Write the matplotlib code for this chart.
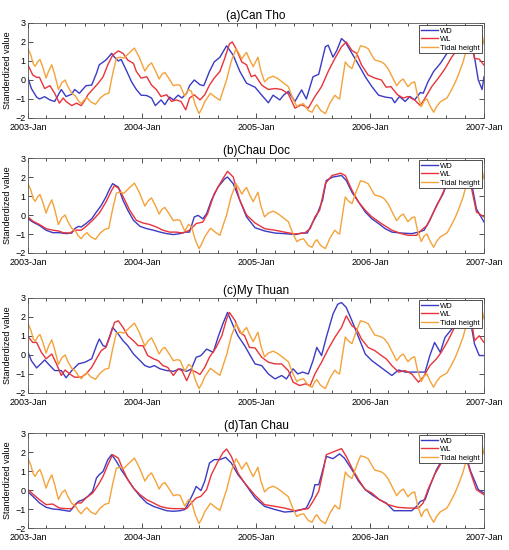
import numpy as np
import pandas as pd
import matplotlib
matplotlib.use('AGG')
import matplotlib.pyplot as plt
import matplotlib.dates as mdates

# (months after 2003-Jan, standardized value)
tidal = [(0, 1.65), (0.3, 1.3), (0.55, 0.85), (0.75, 0.72), (1.0, 0.95), (1.25, 1.08), (1.5, 0.75),
         (1.9, 0.1), (2.15, 0.45), (2.5, 0.8), (2.8, 0.3), (3.2, -0.5), (3.55, -0.15), (3.9, 0.0),
         (4.2, -0.35), (4.6, -0.7), (5.0, -0.85), (5.3, -1.1), (5.6, -1.25), (5.9, -1.05),
         (6.2, -0.93), (6.6, -1.15), (7.1, -1.28), (7.6, -0.95), (8.1, -0.75), (8.5, -0.7),
         (8.9, 0.3), (9.3, 1.15), (9.7, 1.2), (10.1, 1.15), (10.6, 1.4), (11.2, 1.68),
         (11.7, 1.2), (12.3, 0.47), (12.65, 0.75), (13.0, 0.9), (13.4, 0.5), (13.8, 0.05),
         (14.1, 0.3), (14.4, 0.4), (14.8, 0.1), (15.3, -0.3), (15.7, -0.25), (16.0, -0.28),
         (16.5, -0.85), (16.9, -0.5), (17.2, -0.6), (17.6, -1.3), (18.0, -1.77), (18.3, -1.5),
         (18.6, -1.15), (19.2, -0.7), (19.7, -0.9), (20.2, -1.07), (20.5, -0.6), (20.9, 0.0),
         (21.4, 1.0), (21.9, 1.65), (22.2, 1.4), (22.5, 1.1), (22.75, 1.3), (23.0, 1.45),
         (23.3, 1.1), (23.7, 0.7), (24.0, 1.0), (24.2, 1.2), (24.5, 0.5), (24.9, -0.1),
         (25.3, 0.1), (25.8, 0.2), (26.2, 0.1), (26.5, 0.0), (27.0, -0.2), (27.4, -0.35),
         (27.9, -1.0), (28.3, -1.4), (28.6, -1.3), (29.0, -1.25), (29.5, -1.6), (29.9, -1.7),
         (30.2, -1.4), (30.4, -1.3), (30.8, -1.6), (31.3, -1.77), (31.8, -1.2), (32.3, -0.8),
         (32.6, -0.95), (32.8, -1.0), (33.1, 0.0), (33.4, 0.95), (33.7, 0.75), (34.1, 0.6),
         (34.6, 1.3), (35.0, 1.8), (35.4, 1.75), (35.8, 1.65), (36.2, 1.3), (36.5, 1.05),
         (36.9, 1.0), (37.2, 0.95), (37.5, 0.85), (37.9, 0.6), (38.4, 0.1), (38.8, -0.3),
         (39.2, -0.05), (39.5, 0.05), (39.8, -0.2), (40.0, -0.35), (40.4, -0.15), (40.7, -0.1),
         (41.0, -0.8), (41.4, -1.4), (41.7, -1.1), (42.0, -1.0), (42.3, -1.35), (42.7, -1.7),
         (43.0, -1.4), (43.4, -1.15), (44.1, -0.95), (44.6, -0.5), (45.0, -0.1), (45.4, 0.4),
         (45.8, 0.95), (46.1, 1.5), (46.4, 2.0), (46.8, 1.8), (47.1, 1.5), (47.5, 2.1),
         (47.8, 2.35), (48.0, 1.9)]

wd_cantho = [(0, 0.1), (0.35, -0.45), (0.9, -0.9), (1.2, -1.0), (1.75, -0.88), (2.3, -1.05),
             (2.8, -1.13), (3.5, -0.5), (4.0, -0.87), (4.6, -0.75), (4.9, -0.5), (5.4, -0.7),
             (6.1, -0.3), (6.7, -0.27), (7.2, 0.35), (7.5, 0.8), (8.2, 1.05), (8.8, 1.4),
             (9.1, 1.2), (9.5, 1.0), (9.8, 1.08), (10.4, 0.45), (10.9, -0.1), (11.4, -0.5),
             (11.9, -0.8), (12.5, -0.82), (13.0, -0.95), (13.4, -1.35), (14.0, -1.05),
             (14.4, -1.3), (14.9, -0.9), (15.3, -1.05), (15.8, -0.8), (16.2, -0.95),
             (16.7, -0.7), (17.0, -0.3), (17.5, 0.0), (18.1, -0.25), (18.5, -0.3), (19.1, 0.45),
             (19.6, 0.95), (20.2, 1.2), (20.9, 1.8), (21.6, 1.3), (22.3, 0.45), (23.0, -0.17),
             (23.9, -0.38), (24.6, -0.8), (25.3, -1.2), (25.8, -0.8), (26.5, -1.05),
             (26.9, -0.8), (27.4, -0.6), (28.1, -1.13), (28.8, -0.52), (29.3, -1.0),
             (30.0, 0.17), (30.6, 0.3), (31.3, 1.75), (31.6, 1.83), (32.1, 1.2), (32.5, 1.55),
             (33.0, 2.18), (33.4, 2.0), (34.1, 1.4), (34.8, 0.8), (35.5, 0.17), (36.2, -0.35),
             (36.9, -0.8), (37.6, -0.9), (38.3, -0.95), (38.6, -1.2), (39.1, -0.87),
             (39.7, -1.13), (40.2, -0.87), (40.7, -1.05), (41.3, -0.66), (41.6, -0.7),
             (42.1, -0.1), (42.7, 0.45), (43.4, 0.87), (44.1, 1.4), (45.5, 2.0), (46.5, 2.2),
             (47.0, 1.2), (47.4, 0.0), (47.8, -0.5), (48.0, 0.17)]

wl_cantho = [(0, 0.78), (0.5, 0.26), (0.9, 0.14), (1.2, 0.14), (1.75, -0.45), (2.3, -0.3),
             (2.8, -0.7), (3.3, -1.22), (3.7, -0.95), (4.0, -1.13), (4.6, -1.35), (5.1, -1.22),
             (5.6, -1.35), (6.0, -1.05), (6.3, -0.78), (6.8, -0.5), (7.4, -0.17), (7.9, 0.17),
             (8.4, 0.8), (8.9, 1.3), (9.5, 1.53), (10.0, 1.4), (10.5, 1.05), (11.1, 0.87),
             (11.4, 0.45), (11.9, 0.1), (12.5, 0.17), (13.0, -0.27), (13.5, -0.5),
             (14.0, -0.87), (14.6, -0.78), (15.1, -1.13), (15.6, -1.05), (16.1, -1.13),
             (16.6, -1.57), (17.0, -0.95), (17.5, -0.78), (18.1, -1.05), (18.6, -0.78),
             (19.1, -0.27), (19.6, 0.1), (20.2, 0.45), (20.7, 1.13), (21.2, 1.9), (21.5, 2.0),
             (21.9, 1.65), (22.5, 0.95), (23.0, 0.8), (23.5, 0.17), (23.9, 0.26),
             (24.6, -0.27), (25.3, -0.5), (26.0, -0.45), (26.7, -0.5), (27.4, -0.73),
             (28.1, -1.48), (28.8, -1.3), (29.5, -1.48), (30.2, -0.87), (30.9, -0.35),
             (31.6, 0.45), (32.3, 1.13), (33.0, 1.75), (33.5, 2.0), (34.1, 1.55), (34.6, 1.4),
             (35.1, 0.8), (35.8, 0.26), (36.5, 0.1), (37.2, 0.0), (37.7, -0.38), (38.2, -0.35),
             (38.9, -0.78), (39.5, -0.95), (40.0, -0.87), (40.7, -1.05), (41.3, -1.35),
             (41.8, -0.95), (42.5, -0.35), (43.2, 0.1), (43.9, 0.6), (44.6, 1.2), (45.1, 1.55),
             (46.0, 1.8), (46.6, 2.0), (47.0, 1.13), (47.5, 1.1), (48.0, 0.78)]

wd_chaudoc = [(0, -0.2), (0.5, -0.37), (1.2, -0.55), (1.9, -0.8), (2.6, -0.93), (3.3, -0.93),
              (4.0, -0.98), (4.6, -0.95), (4.9, -0.72), (5.3, -0.6), (5.6, -0.63), (6.1, -0.45),
              (6.7, -0.2), (7.2, 0.16), (7.7, 0.5), (8.2, 0.95), (8.6, 1.38), (8.9, 1.65),
              (9.5, 1.47), (10.0, 0.77), (10.5, 0.25), (11.1, -0.28), (11.8, -0.6),
              (12.5, -0.72), (13.2, -0.8), (13.9, -0.9), (14.6, -0.98), (15.3, -1.03),
              (16.0, -0.98), (16.5, -0.9), (17.0, -0.9), (17.5, -0.1), (17.9, -0.02),
              (18.4, -0.2), (18.8, 0.07), (19.3, 0.77), (20.0, 1.47), (20.7, 1.9), (21.0, 2.0),
              (21.6, 1.65), (22.3, 0.77), (23.0, -0.1), (23.9, -0.67), (24.9, -0.84),
              (26.0, -0.95), (27.0, -0.98), (28.1, -1.03), (28.8, -0.95), (29.4, -0.95),
              (29.9, -0.45), (30.4, 0.0), (31.0, 0.77), (31.4, 1.82), (32.1, 2.0), (33.0, 2.08),
              (33.5, 1.82), (34.1, 1.2), (34.8, 0.68), (35.5, 0.16), (36.2, -0.2),
              (36.9, -0.45), (37.6, -0.72), (38.3, -0.9), (39.3, -0.95), (40.4, -0.98),
              (41.1, -0.9), (41.7, -0.8), (42.3, -0.28), (43.0, 0.5), (43.7, 1.12),
              (44.2, 1.82), (45.0, 2.1), (46.0, 2.3), (46.7, 1.65), (47.2, 0.33), (48.0, -0.37)]

wl_chaudoc = [(0, -0.1), (0.5, -0.32), (1.2, -0.5), (1.9, -0.72), (2.6, -0.8), (3.2, -0.84),
              (3.7, -0.93), (4.4, -0.95), (4.9, -0.8), (5.6, -0.8), (6.1, -0.6), (6.8, -0.28),
              (7.5, 0.1), (8.2, 0.68), (8.8, 1.3), (9.1, 1.55), (9.6, 1.38), (10.2, 0.77),
              (10.7, 0.25), (11.4, -0.28), (12.1, -0.42), (12.8, -0.5), (13.5, -0.63),
              (14.2, -0.8), (14.9, -0.9), (15.6, -0.9), (16.3, -0.95), (17.0, -0.8),
              (17.7, -0.45), (18.4, -0.37), (18.9, 0.07), (19.6, 1.12), (20.4, 1.82),
              (21.0, 2.3), (21.6, 2.0), (22.3, 0.77), (23.0, 0.0), (23.9, -0.42),
              (24.9, -0.72), (26.0, -0.8), (27.0, -0.9), (28.1, -1.0), (29.1, -0.95),
              (29.7, -0.72), (30.2, -0.1), (30.7, 0.25), (31.3, 1.65), (32.0, 2.08),
              (32.9, 2.2), (33.4, 2.08), (34.1, 1.3), (34.8, 0.68), (35.5, 0.25), (36.2, -0.1),
              (37.2, -0.45), (38.3, -0.8), (39.3, -0.98), (40.0, -1.07), (40.9, -1.07),
              (41.4, -0.8), (42.0, -0.55), (42.7, 0.16), (43.4, 0.86), (44.1, 1.65),
              (45.0, 2.1), (46.0, 2.2), (46.7, 1.38), (47.2, 0.16), (48.0, -0.1)]

wd_mythuan = [(0, 0.14), (0.35, -0.3), (0.9, -0.68), (1.4, -0.44), (1.75, -0.26), (2.3, -0.56),
              (2.8, -0.82), (3.5, -0.82), (4.0, -1.2), (4.6, -0.82), (5.3, -0.47), (6.0, -0.38),
              (6.7, -0.2), (7.2, 0.49), (7.5, 0.84), (7.9, 0.49), (8.2, 0.44), (8.6, 1.0),
              (8.9, 1.45), (9.5, 1.1), (10.0, 0.75), (10.5, 0.49), (11.1, 0.05), (11.8, -0.3),
              (12.3, -0.56), (12.8, -0.65), (13.3, -0.56), (13.9, -0.73), (14.6, -0.82),
              (15.3, -0.86), (16.0, -0.73), (16.7, -0.86), (17.2, -0.73), (17.7, -0.12),
              (18.2, -0.03), (18.8, 0.31), (19.5, 0.14), (20.0, 0.93), (20.5, 1.63),
              (21.0, 2.24), (21.6, 1.54), (22.1, 1.01), (22.8, 0.49), (23.9, -0.47),
              (24.6, -0.56), (25.3, -1.0), (26.0, -1.26), (26.7, -1.08), (27.2, -1.26),
              (27.9, -0.73), (28.4, -1.0), (28.9, -0.9), (29.5, -1.0), (30.0, -0.3),
              (30.4, 0.4), (30.9, -0.03), (31.4, 0.93), (32.1, 2.15), (32.6, 2.67),
              (33.0, 2.76), (33.5, 2.5), (34.1, 1.8), (34.8, 0.93), (35.5, 0.05), (36.2, -0.3),
              (36.9, -0.56), (37.6, -0.82), (38.3, -1.08), (39.0, -0.79), (39.7, -0.9),
              (40.4, -0.9), (41.1, -0.9), (41.8, -0.9), (42.3, -0.03), (42.8, 0.66),
              (43.4, 0.14), (43.9, 0.93), (44.6, 1.36), (45.5, 1.8), (46.5, 2.0), (47.0, 0.58),
              (47.5, -0.03), (48.0, -0.03)]

wl_mythuan = [(0, 0.96), (0.5, 0.66), (0.9, 0.66), (1.4, 0.14), (1.9, -0.2), (2.5, 0.05),
              (3.0, -0.47), (3.5, -1.08), (3.9, -0.79), (4.4, -1.0), (4.9, -1.17), (5.6, -1.17),
              (6.1, -1.0), (6.7, -0.65), (7.2, -0.2), (7.7, 0.23), (8.2, 0.4), (8.6, 0.93),
              (9.1, 1.71), (9.5, 1.8), (10.0, 1.45), (10.5, 1.01), (11.1, 0.75), (11.6, 0.49),
              (12.1, 0.49), (12.6, -0.03), (13.2, -0.2), (13.7, -0.3), (14.2, -0.56),
              (14.7, -0.65), (15.3, -1.08), (15.8, -0.73), (16.2, -0.82), (16.7, -1.35),
              (17.2, -0.79), (17.7, -0.9), (18.1, -1.03), (18.6, -0.65), (19.1, -0.12),
              (19.8, 0.4), (20.4, 1.01), (20.9, 1.89), (21.2, 2.24), (21.8, 1.8), (22.3, 1.19),
              (22.8, 1.01), (23.3, 0.4), (23.9, 0.37), (24.6, -0.12), (25.3, -0.38),
              (26.0, -0.47), (26.7, -0.47), (27.4, -0.82), (27.9, -1.43), (28.6, -1.61),
              (29.2, -1.52), (29.7, -1.61), (30.2, -1.0), (30.9, -0.38), (31.6, 0.31),
              (32.3, 0.93), (33.0, 1.45), (33.5, 2.06), (34.1, 1.54), (34.6, 1.36),
              (35.1, 0.84), (35.8, 0.4), (36.5, 0.23), (37.2, -0.03), (37.7, -0.2),
              (38.3, -0.56), (39.0, -0.9), (39.7, -0.82), (40.4, -1.0), (41.1, -1.43),
              (41.6, -1.17), (42.3, -0.56), (43.0, -0.2), (43.5, 0.14), (44.2, 0.75),
              (44.9, 1.45), (46.0, 1.9), (46.6, 2.1), (47.0, 0.75), (47.5, 1.01), (48.0, 0.66)]

wd_tanchau = [(0, -0.1), (0.5, -0.33), (1.2, -0.68), (1.9, -0.91), (2.6, -1.0), (3.3, -1.03),
              (4.0, -1.09), (4.4, -1.12), (4.7, -0.95), (5.3, -0.6), (5.8, -0.51), (6.3, -0.33),
              (6.8, -0.07), (7.2, 0.63), (7.5, 0.81), (7.9, 0.98), (8.4, 1.6), (8.8, 1.86),
              (9.3, 1.51), (9.8, 1.07), (10.4, 0.63), (11.1, 0.1), (11.8, -0.33), (12.5, -0.68),
              (13.2, -0.86), (13.9, -0.98), (14.6, -1.09), (15.3, -1.12), (16.0, -1.09),
              (16.5, -1.03), (16.8, -0.77), (17.4, -0.16), (17.7, 0.19), (18.2, -0.03),
              (18.6, 0.46), (19.1, 1.42), (19.6, 1.6), (20.2, 1.6), (20.8, 1.72), (21.4, 1.42),
              (22.1, 0.81), (22.8, 0.37), (23.9, -0.42), (24.9, -0.86), (26.0, -1.03),
              (27.0, -1.16), (28.1, -1.12), (28.8, -1.03), (29.3, -0.95), (29.9, -0.33),
              (30.2, 0.28), (30.6, 0.28), (30.9, 0.81), (31.4, 1.77), (32.1, 1.65),
              (32.8, 1.9), (33.3, 1.68), (34.1, 1.07), (34.8, 0.46), (35.5, 0.02), (36.2, -0.25),
              (37.0, -0.51), (37.7, -0.68), (38.5, -1.09), (39.3, -1.09), (40.4, -1.09),
              (40.9, -0.86), (41.3, -0.6), (41.8, -0.51), (42.3, 0.19), (43.0, 1.07),
              (43.7, 1.68), (44.5, 2.0), (45.5, 2.1), (46.1, 1.8), (46.6, 0.98), (47.4, 0.02),
              (48.0, -0.16)]

wl_tanchau = [(0, 0.02), (0.5, -0.21), (1.2, -0.51), (1.9, -0.77), (2.6, -0.74), (3.3, -0.95),
              (4.0, -0.98), (4.6, -0.98), (5.1, -0.68), (5.6, -0.68), (6.1, -0.42),
              (6.8, -0.16), (7.4, 0.28), (7.9, 0.72), (8.4, 1.33), (8.9, 1.86), (9.5, 1.68),
              (10.0, 1.07), (10.5, 0.54), (11.1, 0.1), (11.8, -0.25), (12.5, -0.51),
              (13.2, -0.68), (13.9, -0.86), (14.6, -0.95), (15.3, -0.98), (16.0, -0.98),
              (16.7, -0.98), (17.2, -0.68), (17.7, -0.42), (18.2, -0.33), (18.8, 0.02),
              (19.3, 0.81), (20.0, 1.51), (20.5, 1.95), (20.9, 2.16), (21.4, 1.77),
              (22.1, 0.89), (22.8, 0.37), (23.9, -0.28), (24.9, -0.77), (26.0, -0.86),
              (27.0, -0.95), (28.1, -1.09), (28.8, -1.03), (29.5, -0.98), (30.0, -0.6),
              (30.6, -0.07), (31.1, 1.07), (31.4, 1.86), (32.3, 2.04), (33.0, 2.18),
              (33.5, 1.77), (34.1, 1.16), (34.8, 0.54), (35.5, 0.02), (36.2, -0.16),
              (37.0, -0.51), (37.9, -0.77), (38.9, -0.91), (40.0, -0.95), (41.1, -0.95),
              (41.6, -0.68), (42.1, 0.02), (42.8, 0.81), (43.5, 1.42), (44.5, 1.9), (45.5, 2.1),
              (46.1, 1.7), (46.6, 0.89), (47.2, 0.02), (48.0, -0.25)]

stations = ['(a)Can Tho', '(b)Chau Doc', '(c)My Thuan', '(d)Tan Chau']
wd_series = [wd_cantho, wd_chaudoc, wd_mythuan, wd_tanchau]
wl_series = [wl_cantho, wl_chaudoc, wl_mythuan, wl_tanchau]

start = pd.Timestamp('2003-01-01')


def to_dates(pairs):
    m = np.array([p[0] for p in pairs])
    v = np.array([p[1] for p in pairs])
    d = start + pd.to_timedelta(m * 365.25 / 12, unit='D')
    return d, v


plt.rcParams['font.family'] = ['Liberation Sans', 'DejaVu Sans']
fig = plt.figure(figsize=(5.1, 5.5), dpi=100)

bottoms = [0.7855, 0.54, 0.2855, 0.04]
for i in range(4):
    ax = fig.add_axes([0.055, bottoms[i], 0.894, 0.1727])
    d, v = to_dates(wd_series[i])
    ax.plot(d, v, color='#3b3bc4', lw=1.0, label='WD')
    d, v = to_dates(wl_series[i])
    ax.plot(d, v, color='#e8343a', lw=1.0, label='WL')
    d, v = to_dates(tidal)
    ax.plot(d, v, color='#f4a23a', lw=1.0, label='Tidal height')

    ax.set_xlim(pd.Timestamp('2003-01-01'), pd.Timestamp('2007-01-01'))
    ax.set_ylim(-2, 3)
    ax.set_yticks([-2, -1, 0, 1, 2, 3])
    ax.xaxis.set_major_locator(mdates.YearLocator())
    ax.xaxis.set_major_formatter(mdates.DateFormatter('%Y-%b'))
    ax.xaxis.set_minor_locator(mdates.MonthLocator(bymonth=[3, 5, 7, 9, 11]))
    ax.tick_params(which='both', direction='in', top=True, right=True,
                   labelsize=6.5, width=0.6, color='#333333')
    ax.tick_params(axis='x', which='major', pad=3.5)
    ax.tick_params(axis='y', which='major', pad=2)
    ax.tick_params(which='major', length=3.5)
    ax.tick_params(which='minor', length=2.5)
    for sp in ax.spines.values():
        sp.set_linewidth(0.6)
        sp.set_color('#555555')
    ax.set_ylabel('Standerdized value', fontsize=6.5, labelpad=2.5)
    ax.set_title(stations[i], fontsize=8.5, pad=3)
    leg = ax.legend(loc='upper right', fontsize=5.5, frameon=True, fancybox=False,
                    borderaxespad=0.3, handlelength=2.2, handletextpad=0.3,
                    borderpad=0.25, labelspacing=0.15)
    leg.get_frame().set_edgecolor('#333333')
    leg.get_frame().set_linewidth(0.6)
    leg.get_frame().set_alpha(1)

fig.savefig('out.png', dpi=100)
